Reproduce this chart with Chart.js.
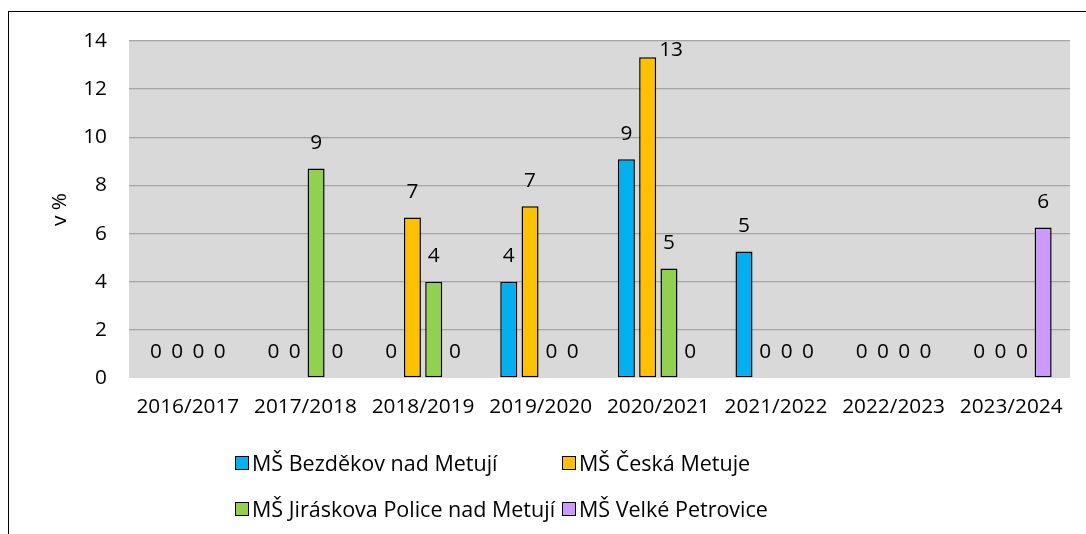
<!DOCTYPE html>
<html><head><meta charset="utf-8">
<script src="https://cdn.jsdelivr.net/npm/chart.js@4.4.1/dist/chart.umd.min.js"></script>
<style>
html,body{margin:0;padding:0;background:#fff;overflow:hidden;}
#wrap{position:relative;width:1086px;height:534px;overflow:hidden;}
#frame{position:absolute;left:8px;top:11px;width:1200px;height:700px;border:1.5px solid #000;box-sizing:border-box}
canvas{position:absolute;left:0;top:0}
.leg{position:absolute;height:26px;font-family:"Open Sans",Lato,sans-serif;font-size:21.5px;color:#000;display:flex;align-items:center;white-space:nowrap}
.leg i{display:inline-block;box-sizing:border-box;width:14px;height:14px;border:1.5px solid #000;margin-right:3px}
</style></head>
<body>
<div id="wrap">
  <div id="frame"></div>
  <canvas id="c" width="1086" height="534"></canvas>
  <div id="legend"></div>
</div>
<script>
const categories = ["2016/2017","2017/2018","2018/2019","2019/2020","2020/2021","2021/2022","2022/2023","2023/2024"];
const seriesNames = ["MŠ Bezděkov nad Metují","MŠ Česká Metuje","MŠ Jiráskova Police nad Metují","MŠ Velké Petrovice"];
const bezdekov  = [0, 0,    0,    4,    9.09,  5.26, 0, 0];
const ceska     = [0, 0,    6.67, 7.14, 13.33, 0,    0, 0];
const jiraskova = [0, 8.7,  4,    0,    4.55,  0,    0, 0];
const velke     = [0, 0,    0,    0,    0,     0,    0, 6.25];
const colors = ["#00b0f0","#ffc000","#92d050","#cc99ff"];
const yTicks = [0,2,4,6,8,10,12,14];
const FONT = '"Open Sans", Lato, sans-serif';
const FS = 20.8;

const seriesValues = [bezdekov, ceska, jiraskova, velke];

const bgPlugin = {
  id:'bg',
  beforeDraw(chart){
    const {ctx, chartArea:a} = chart;
    ctx.save(); ctx.fillStyle='#d9d9d9';
    ctx.fillRect(a.left, a.top, a.right-a.left, a.bottom-a.top);
    ctx.restore();
  }
};
const labelPlugin = {
  id:'vals',
  afterDatasetsDraw(chart){
    const ctx=chart.ctx, ca=chart.chartArea;
    ctx.save();
    ctx.font=FS+'px '+FONT; ctx.fillStyle='#000'; ctx.textAlign='center'; ctx.textBaseline='middle';
    chart.data.datasets.forEach((ds,i)=>{
      chart.getDatasetMeta(i).data.forEach((bar,j)=>{
        const txt = String(Math.round(ds.data[j]));
        let x = bar.x, y = bar.y - 25.5;
        const h = 20;
        if (y - h/2 < ca.top) {
          y = ca.top + h/2 - 1;
          x = bar.x + bar.width/2 + ctx.measureText(txt).width/2 + 3;
        }
        ctx.fillText(txt, x, y);
      });
    });
    ctx.restore();
  }
};

new Chart(document.getElementById('c'), {
  type:'bar',
  data:{
    labels: categories,
    datasets: seriesNames.map((n,i)=>({
      label:n, data:seriesValues[i], backgroundColor:colors[i], borderColor:'#000',
      borderWidth: c => (c.raw===0 ? 0 : 1.5), borderSkipped:false,
      categoryPercentage:0.724, barPercentage:0.8
    }))
  },
  options:{
    responsive:false, animation:false, devicePixelRatio:1,
    layout:{padding:{top:41,left:0,right:16,bottom:111}},
    plugins:{legend:{display:false}, tooltip:{enabled:false}},
    scales:{
      x:{
        grid:{display:false}, border:{display:false},
        ticks:{color:'#000', font:{family:FONT,size:FS}, padding:9, maxRotation:0, autoSkip:false},
        afterFit(s){ s.height = 45; }
      },
      y:{
        min:0, max:14,
        afterBuildTicks(s){ s.ticks = yTicks.map(v=>({value:v})); },
        grid:{drawTicks:false, color: c => (c.tick && c.tick.value===0 ? 'rgba(0,0,0,0)' : '#a5a5a5'), lineWidth:1.3},
        border:{display:false},
        ticks:{color:'#000', font:{family:FONT,size:FS}, padding:22},
        title:{display:true, text:'v %', color:'#000', font:{family:FONT,size:FS}, padding:{top:48,bottom:0}},
        afterFit(s){ s.width = 129; }
      }
    }
  },
  plugins:[bgPlugin, labelPlugin]
});

const legendPos = [[235,462.5],[562,462.5],[235,508.5],[562,508.5]];
const lg = document.getElementById('legend');
seriesNames.forEach((n,i)=>{
  const d=document.createElement('div'); d.className='leg';
  d.style.left=legendPos[i][0]+'px'; d.style.top=(legendPos[i][1]-13)+'px';
  const b=document.createElement('i'); b.style.background=colors[i];
  d.appendChild(b); d.appendChild(document.createTextNode(n));
  lg.appendChild(d);
});
</script>
</body></html>
